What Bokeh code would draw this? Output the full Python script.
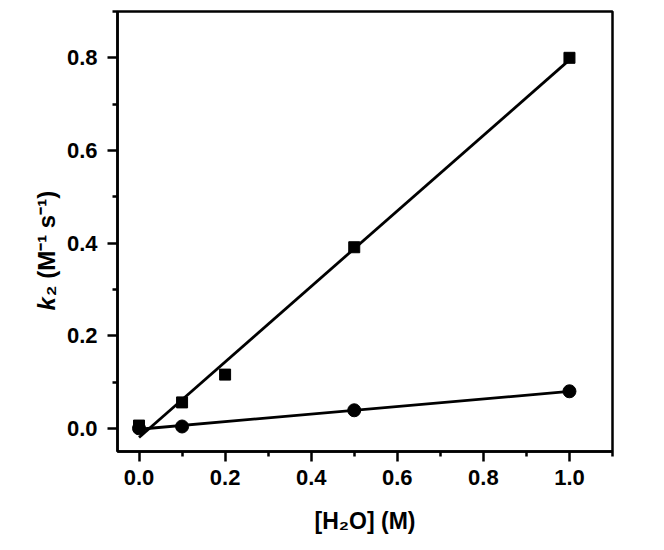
import numpy as np
from bokeh.plotting import figure
from bokeh.models import FixedTicker, Range1d, Label, PrintfTickFormatter
from bokeh.embed import file_html
from bokeh.resources import INLINE

# ---- data ----
h2o_sq = [0.0, 0.1, 0.2, 0.5, 1.0]
k2_sq = [0.006, 0.056, 0.116, 0.391, 0.800]
h2o_ci = [0.0, 0.1, 0.5, 1.0]
k2_ci = [0.0, 0.004, 0.039, 0.080]

x_major = [0.0, 0.2, 0.4, 0.6, 0.8, 1.0]
x_minor = [0.1, 0.3, 0.5, 0.7, 0.9, 1.1]
y_major = [0.0, 0.2, 0.4, 0.6, 0.8]
y_minor = [0.1, 0.3, 0.5, 0.7, 0.9]

x_title = "[H₂O] (M)"
y_title_k = "k"
y_title_rest = "₂ (M⁻¹ s⁻¹)"

x_lo, x_hi = -0.05, 1.1
y_lo, y_hi = -0.05, 0.9

FONT = "Liberation Sans"

W, H = 648, 534
fl, fr, ft, fb = 117, 612, 11, 451   # frame edges inside the figure

p = figure(width=W, height=H, output_backend="svg", toolbar_location=None,
           x_range=Range1d(x_lo, x_hi), y_range=Range1d(y_lo, y_hi),
           min_border_left=fl, min_border_right=W - fr,
           min_border_top=ft, min_border_bottom=H - fb)
p.background_fill_color = "white"
p.border_fill_color = "white"
p.grid.visible = False
p.outline_line_color = "black"
p.outline_line_width = 2.5
p.outline_line_alpha = 1.0

for ax, maj, mnr in ((p.xaxis[0], x_major, x_minor), (p.yaxis[0], y_major, y_minor)):
    ax.ticker = FixedTicker(ticks=maj, minor_ticks=mnr)
    ax.formatter = PrintfTickFormatter(format="%.1f")
    ax.axis_line_width = 2.5
    ax.axis_line_color = "black"
    ax.major_tick_line_width = 2.5
    ax.minor_tick_line_width = 2.5
    ax.major_tick_line_color = "black"
    ax.minor_tick_line_color = "black"
    ax.major_tick_in = 0
    ax.major_tick_out = 10
    ax.minor_tick_in = 0
    ax.minor_tick_out = 5
    ax.major_label_text_font = FONT
    ax.major_label_text_font_style = "bold"
    ax.major_label_text_font_size = "22px"
    ax.major_label_text_color = "black"
p.xaxis.major_label_standoff = 8
p.yaxis.major_label_standoff = 10

# ---- linear fits through the data ----
m1, b1 = np.polyfit(h2o_sq, k2_sq, 1)
m2, b2 = np.polyfit(h2o_ci, k2_ci, 1)
xs1 = np.array([min(h2o_sq), max(h2o_sq)])
xs2 = np.array([min(h2o_ci), max(h2o_ci)])
p.line(xs1, m1 * xs1 + b1, line_color="black", line_width=2.8)
p.line(xs2, m2 * xs2 + b2, line_color="black", line_width=2.8)

p.scatter(h2o_sq, k2_sq, marker="square", size=11, fill_color="black", line_color="black")
p.scatter(h2o_ci, k2_ci, marker="circle", size=13, fill_color="black", line_color="black")

# ---- axis titles: labels living in the side panels (not clipped), positioned in data units ----
def dx(ix):
    return x_lo + (ix - fl) / (fr - fl) * (x_hi - x_lo)
def dy(iy):
    return y_hi - (iy - ft) / (fb - ft) * (y_hi - y_lo)

p.add_layout(Label(x=dx((fl + fr) / 2.0), y=dy(520), text=x_title, text_font=FONT,
                   text_font_style="bold", text_font_size="23px", text_color="black",
                   text_align="center", text_baseline="alphabetic"), "below")

k_start = 310
k_w = 556 * 24 / 1000.0
bx = 46
p.add_layout(Label(x=dx(bx), y=dy(k_start), text=y_title_k, text_font=FONT,
                   text_font_style="bold italic", text_font_size="24px", text_color="black",
                   text_align="left", text_baseline="alphabetic", angle=np.pi / 2), "left")
p.add_layout(Label(x=dx(bx), y=dy(k_start - k_w - 1), text=y_title_rest, text_font=FONT,
                   text_font_style="bold", text_font_size="24px", text_color="black",
                   text_align="left", text_baseline="alphabetic", angle=np.pi / 2), "left")

open("out.html", "w").write(file_html(p, INLINE))
